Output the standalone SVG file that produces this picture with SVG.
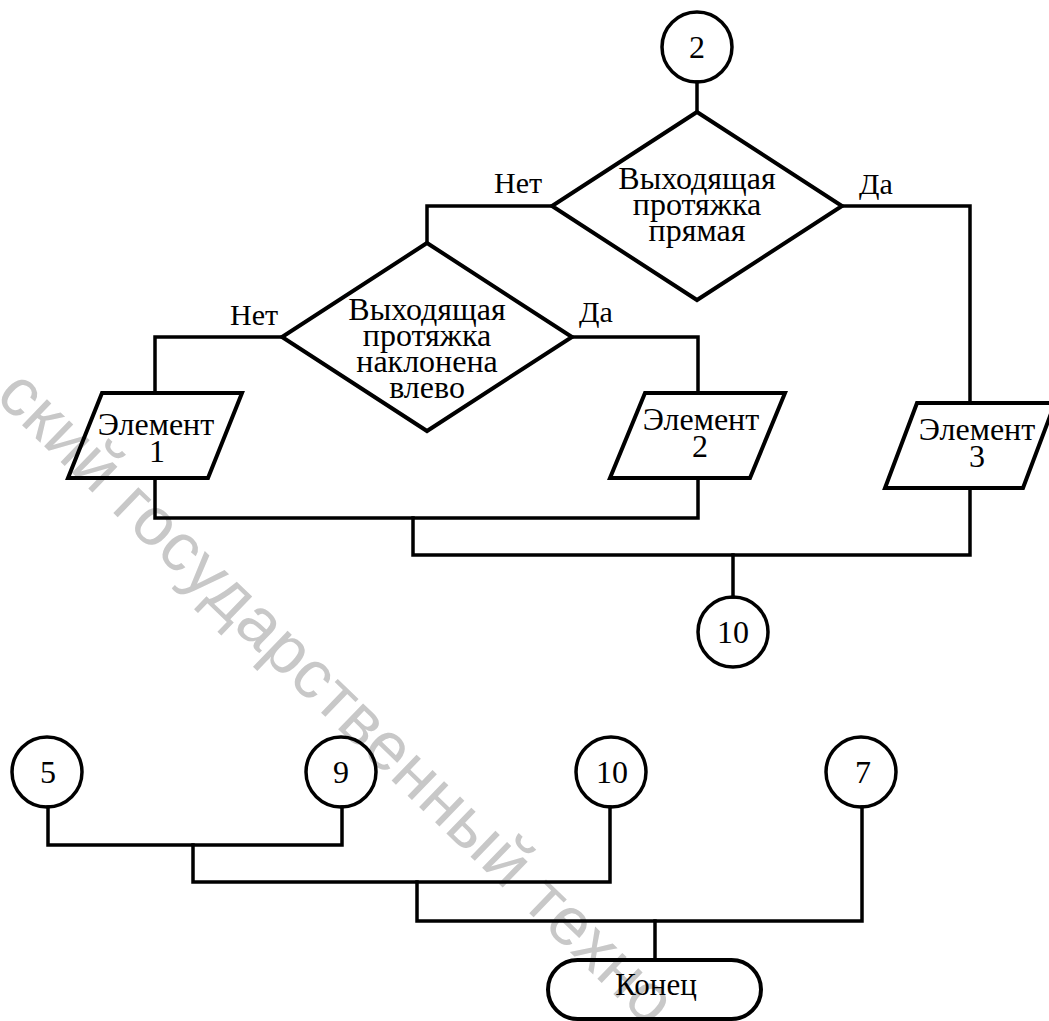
<svg xmlns="http://www.w3.org/2000/svg" width="1049" height="1021" viewBox="0 0 1049 1021">
  <style>
    .shape { fill: none; stroke: #000; stroke-width: 4; stroke-linejoin: miter; }
    .ring { fill: none; stroke: #000; stroke-width: 3.5; }
    .conn { fill: none; stroke: #000; stroke-width: 3.5; stroke-linejoin: miter; stroke-linecap: square; }
    .wm { font-family: "Liberation Sans", Arial, sans-serif; font-size: 68px; letter-spacing: 0.5px; fill: #c8c8c8; }
  </style>
  <rect width="1049" height="1021" fill="#fff"/>

  <!-- background stamp -->
  <text class="wm" transform="translate(-6,398) rotate(43.9)">ский государственный техно</text>

  <!-- connectors -->
  <g id="connectors">
    <path class="conn" d="M697,82 V112"/>
    <path class="conn" d="M552,206 H427 V243"/>
    <path class="conn" d="M842,206 H970 V403"/>
    <path class="conn" d="M282,337 H155 V393"/>
    <path class="conn" d="M572,337 H698 V393"/>
    <path class="conn" d="M155,478 V518 H698 V478"/>
    <path class="conn" d="M413,518 V555 H970 V488"/>
    <path class="conn" d="M733,555 V597"/>
    <path class="conn" d="M48,807 V845 H342 V807"/>
    <path class="conn" d="M193,845 V882 H610 V807"/>
    <path class="conn" d="M417,882 V921 H862 V807"/>
    <path class="conn" d="M655,921 V960"/>
    <g font-family="'Liberation Serif', 'Times New Roman', serif" font-size="30" fill="#000">
      <text x="494" y="193">Нет</text>
      <text x="859" y="194">Да</text>
      <text x="230" y="325">Нет</text>
      <text x="579" y="322">Да</text>
    </g>
  </g>

  <g font-family="'Liberation Serif', 'Times New Roman', serif" font-size="32" fill="#000" text-anchor="middle">
    <!-- off-page connector 2 -->
    <g id="n-c2">
      <circle class="ring" cx="697" cy="47" r="35"/>
      <text x="697" y="58">2</text>
    </g>

    <!-- decision: straight outgoing stroke -->
    <g id="n-d1">
      <path class="shape" d="M697,112 L842,206 L697,300 L552,206 Z"/>
      <text x="697" y="189">Выходящая</text>
      <text x="697" y="215">протяжка</text>
      <text x="697" y="241">прямая</text>
    </g>

    <!-- decision: stroke tilted left -->
    <g id="n-d2">
      <path class="shape" d="M427,243 L572,337 L427,431 L282,337 Z"/>
      <text x="427" y="320">Выходящая</text>
      <text x="427" y="346">протяжка</text>
      <text x="427" y="372">наклонена</text>
      <text x="427" y="398">влево</text>
    </g>

    <!-- elements (data blocks) -->
    <g id="n-e1">
      <path class="shape" d="M102,393 L242,393 L208,478 L68,478 Z"/>
      <text x="156" y="435">Элемент</text>
      <text x="157" y="462">1</text>
    </g>
    <g id="n-e2">
      <path class="shape" d="M645,393 L785,393 L750,478 L610,478 Z"/>
      <text x="701" y="430">Элемент</text>
      <text x="700" y="457">2</text>
    </g>
    <g id="n-e3">
      <path class="shape" d="M917,403 L1055,403 L1023,488 L885,488 Z"/>
      <text x="977" y="440">Элемент</text>
      <text x="977" y="467">3</text>
    </g>

    <!-- off-page connector 10 (exit) -->
    <g id="n-c10a">
      <circle class="ring" cx="733" cy="632" r="35"/>
      <text x="733" y="643">10</text>
    </g>

    <!-- merge inputs -->
    <g id="n-c5">
      <circle class="ring" cx="47" cy="772" r="35"/>
      <text x="48" y="783">5</text>
    </g>
    <g id="n-c9">
      <circle class="ring" cx="341" cy="772" r="35"/>
      <text x="341" y="783">9</text>
    </g>
    <g id="n-c10b">
      <circle class="ring" cx="611" cy="772" r="35"/>
      <text x="612" y="783">10</text>
    </g>
    <g id="n-c7">
      <circle class="ring" cx="861" cy="772" r="35"/>
      <text x="863" y="783">7</text>
    </g>

    <!-- terminator -->
    <g id="n-end">
      <rect class="shape" x="548" y="960" width="213" height="59" rx="29.5" ry="29.5"/>
      <text x="656" y="995" font-size="31">Конец</text>
    </g>
  </g>
</svg>
